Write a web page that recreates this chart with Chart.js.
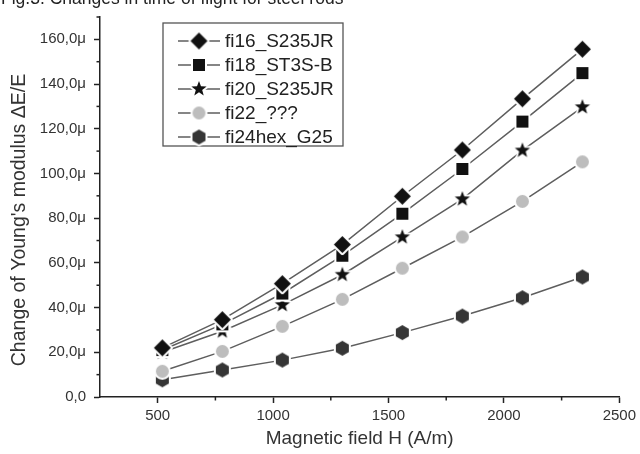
<!DOCTYPE html>
<html><head><meta charset="utf-8">
<script src="https://cdn.jsdelivr.net/npm/chart.js@4.4.1/dist/chart.umd.min.js"></script>
<style>html,body{margin:0;padding:0;background:#fff}#wrap{width:640px;height:454px;position:relative}</style>
</head><body><div id="wrap"><canvas id="c" width="640" height="454"></canvas></div>
<script>
const fieldH = [520, 780, 1040, 1300, 1560, 1820, 2080, 2340];
const fi16 = [22.0, 34.6, 50.7, 68.2, 89.8, 110.5, 133.4, 155.6];
const fi18 = [21.0, 32.5, 46.3, 63.2, 82.0, 102.0, 123.2, 144.9];
const fi20 = [20.0, 29.4, 41.2, 54.7, 71.5, 88.5, 110.3, 129.7];
const fi22 = [11.5, 20.4, 31.6, 43.7, 57.6, 71.6, 87.5, 105.2];
const fi24 = [7.7, 12.1, 16.5, 21.8, 28.8, 36.2, 44.4, 53.7];
const seriesNames = ['fi16_S235JR', 'fi18_ST3S-B', 'fi20_S235JR', 'fi22_???', 'fi24hex_G25'];
const yMajorTicks = [0, 20, 40, 60, 80, 100, 120, 140, 160];
const yMinorTicks = [10, 30, 50, 70, 90, 110, 130, 150, 170];
const xMajorTicks = [500, 1000, 1500, 2000, 2500];
const xMinorTicks = [750, 1250, 1750, 2250];
const titleText = 'Fig.3. Changes in time of flight for steel rods';
const xTitle = 'Magnetic field H (A/m)';
const yTitle = "Change of Young's modulus \u0394E/E";

const FAMILY = '"Liberation Sans", Arial, Helvetica, sans-serif';

function marker(shape, fill, r) {
  const pad = 3;
  const s = Math.ceil(2 * r + 2 * pad);
  const c = document.createElement('canvas');
  c.width = s; c.height = s;
  const g = c.getContext('2d');
  const cx = s / 2, cy = s / 2;
  g.beginPath();
  if (shape === 'diamond') {
    g.moveTo(cx, cy - r); g.lineTo(cx + r, cy); g.lineTo(cx, cy + r); g.lineTo(cx - r, cy); g.closePath();
  } else if (shape === 'square') {
    g.rect(cx - r, cy - r, 2 * r, 2 * r);
  } else if (shape === 'star') {
    for (let i = 0; i < 10; i++) {
      const a = -Math.PI / 2 + i * Math.PI / 5;
      const rr = (i % 2) ? r * 0.42 : r;
      const px = cx + rr * Math.cos(a), py = cy + rr * Math.sin(a);
      if (i === 0) g.moveTo(px, py); else g.lineTo(px, py);
    }
    g.closePath();
  } else if (shape === 'circle') {
    g.arc(cx, cy, r, 0, Math.PI * 2);
  } else if (shape === 'hex') {
    for (let i = 0; i < 6; i++) {
      const a = -Math.PI / 2 + i * Math.PI / 3;
      const px = cx + r * Math.cos(a), py = cy + r * Math.sin(a);
      if (i === 0) g.moveTo(px, py); else g.lineTo(px, py);
    }
    g.closePath();
  }
  g.lineJoin = 'round';
  g.lineWidth = 4;
  g.strokeStyle = '#ffffff';
  g.stroke();
  g.fillStyle = fill;
  g.fill();
  return c;
}

const markers = [
  marker('diamond', '#111111', 8.5),
  marker('square', '#111111', 6),
  marker('star', '#111111', 8),
  marker('circle', '#bdbdbd', 6.5),
  marker('hex', '#363636', 7.5)
];

const seriesValues = [fi16, fi18, fi20, fi22, fi24];
const datasets = seriesValues.map((arr, i) => ({
  label: seriesNames[i],
  data: fieldH.map((x, j) => ({ x: x, y: arr[j] })),
  borderColor: '#5e5e5e',
  borderWidth: 1.5,
  pointStyle: markers[i],
  pointRadius: 8,
  pointHoverRadius: 8,
  tension: 0,
  fill: false
}));

const extras = {
  id: 'extras',
  afterDraw(chart) {
    const ctx = chart.ctx;
    const xs = chart.scales.x, ys = chart.scales.y;
    ctx.save();
    // minor ticks
    ctx.strokeStyle = '#222';
    ctx.lineWidth = 1.5;
    yMinorTicks.forEach(v => {
      const p = ys.getPixelForValue(v);
      ctx.beginPath(); ctx.moveTo(ys.right, p); ctx.lineTo(ys.right - 3.5, p); ctx.stroke();
    });
    xMinorTicks.forEach(v => {
      const p = xs.getPixelForValue(v);
      ctx.beginPath(); ctx.moveTo(p, xs.top); ctx.lineTo(p, xs.top + 3.5); ctx.stroke();
    });
    // y axis title
    ctx.save();
    ctx.translate(20, 220);
    ctx.rotate(-Math.PI / 2);
    ctx.font = '19.5px ' + FAMILY;
    ctx.fillStyle = '#333';
    ctx.textAlign = 'center';
    ctx.textBaseline = 'middle';
    ctx.fillText(yTitle, 0, 0);
    ctx.restore();
    // legend
    const L = { left: 163, top: 23, right: 343, bottom: 146 };
    ctx.strokeStyle = '#555';
    ctx.lineWidth = 1.3;
    ctx.strokeRect(L.left, L.top, L.right - L.left, L.bottom - L.top);
    ctx.font = '19px ' + FAMILY;
    ctx.textBaseline = 'middle';
    ctx.textAlign = 'left';
    chart.data.datasets.forEach((ds, i) => {
      const y = 41 + i * 24;
      ctx.strokeStyle = ds.borderColor;
      ctx.lineWidth = ds.borderWidth;
      ctx.beginPath(); ctx.moveTo(178, y); ctx.lineTo(220, y); ctx.stroke();
      const img = ds.pointStyle;
      ctx.drawImage(img, 199 - img.width / 2, y - img.height / 2);
      ctx.fillStyle = '#222';
      ctx.fillText(ds.label, 225, y + 1);
    });
    // clipped figure title at the very top
    ctx.font = '17.5px ' + FAMILY;
    ctx.textBaseline = 'alphabetic';
    ctx.fillStyle = '#222';
    ctx.fillText(titleText, 1, 4);
    ctx.restore();
  }
};

new Chart(document.getElementById('c'), {
  type: 'line',
  data: { datasets: datasets },
  options: {
    responsive: false,
    animation: false,
    events: [],
    layout: { padding: { left: 0, right: 15, top: 13, bottom: 0 } },
    plugins: { legend: { display: false }, tooltip: { enabled: false }, title: { display: false } },
    scales: {
      x: {
        type: 'linear', min: 250, max: 2500,
        afterBuildTicks: s => { s.ticks = xMajorTicks.map(v => ({ value: v })); },
        afterFit: s => { s.height = 57; },
        grid: { drawOnChartArea: false, drawTicks: true, tickLength: 6, tickColor: '#222', tickWidth: 1.5 },
        border: { display: true, color: '#222', width: 1.5 },
        ticks: { color: '#333', font: { size: 15, family: FAMILY }, padding: 4, maxRotation: 0, autoSkip: false,
                 callback: v => String(v) },
        title: { display: true, text: xTitle, color: '#333', font: { size: 19, family: FAMILY }, padding: { top: 0, bottom: 4 } }
      },
      y: {
        type: 'linear', min: 0, max: 170,
        afterBuildTicks: s => { s.ticks = yMajorTicks.map(v => ({ value: v })); },
        afterFit: s => { s.width = 100; },
        grid: { drawOnChartArea: false, drawTicks: true, tickLength: 6, tickColor: '#222', tickWidth: 1.5 },
        border: { display: true, color: '#222', width: 1.5 },
        ticks: { color: '#333', font: { size: 15, family: FAMILY }, padding: 8, autoSkip: false,
                 callback: v => v === 0 ? '0,0' : v.toFixed(1).replace('.', ',') + '\u03bc' },
        title: { display: false }
      }
    }
  },
  plugins: [extras]
});
</script>
</body></html>
